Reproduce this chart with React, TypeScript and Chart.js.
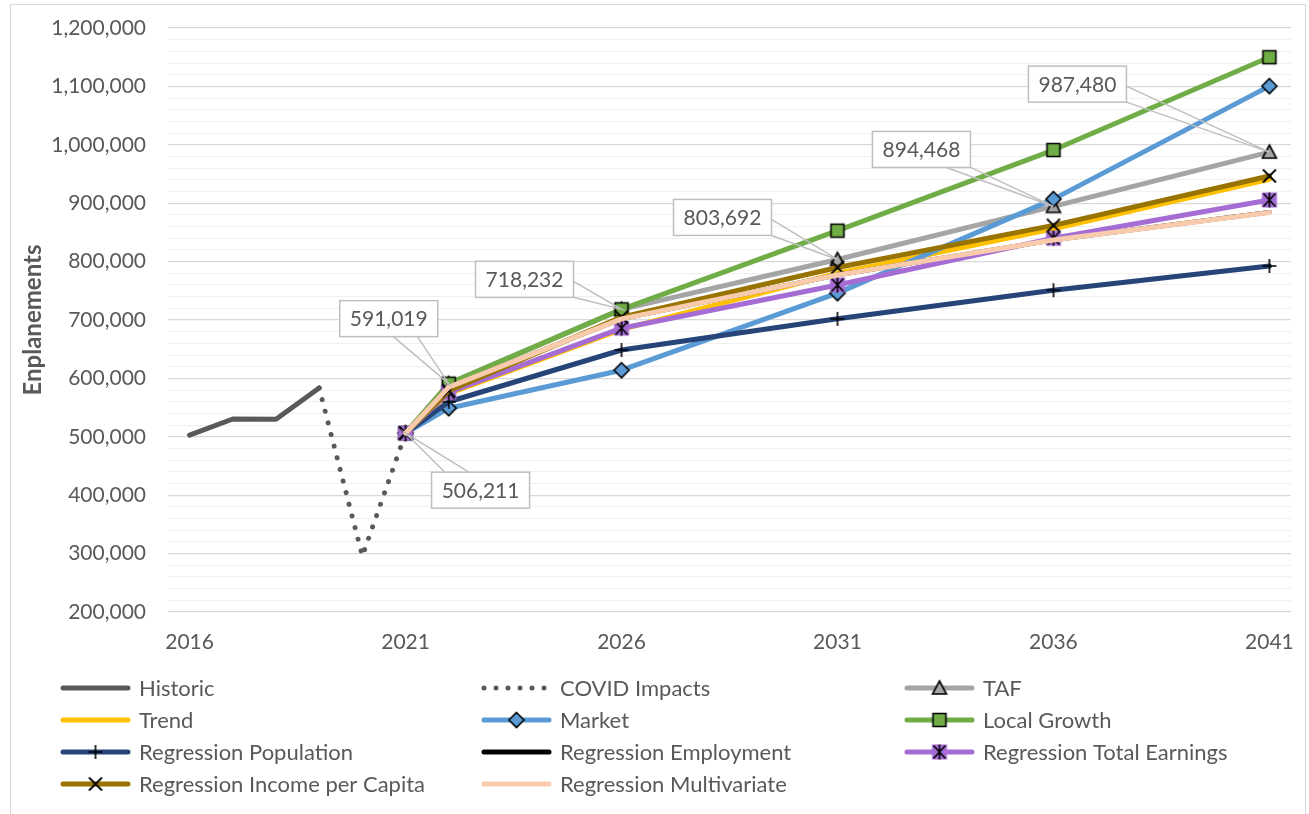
import React, { useEffect, useRef } from 'react';
import { Chart, registerables } from 'chart.js';

Chart.register(...registerables);

// ---------- data ----------
const histYears = [2016, 2017, 2018, 2019];
const historic = [503000, 530500, 530000, 583600];

const covidYears = [2019, 2020, 2021];
const covidImpacts = [583600, 296000, 506211];

const forecastYears = [2021, 2022, 2026, 2031, 2036, 2041];
const taf = [506211, 591019, 718232, 803692, 894468, 987480];
const trend = [506211, 574000, 684000, 780000, 856000, 941000];
const market = [506211, 549000, 614000, 746000, 907000, 1100500];
const localGrowth = [506211, 591019, 718232, 853000, 991000, 1150000];
const regPopulation = [506211, 560000, 648600, 702000, 751000, 792500];
const regEmployment = [506211, 585000, 702000, 777000, 837000, 884500];
const regTotalEarnings = [506211, 576000, 686000, 760000, 840000, 905500];
const regIncomePerCapita = [506211, 579000, 705000, 790000, 862000, 946600];
const regMultivariate = [506211, 585000, 702000, 777000, 837000, 884000];

const xTickYears = [2016, 2021, 2026, 2031, 2036, 2041];
const yMin = 200000;
const yMax = 1200000;
const yMajorStep = 100000;
const yMinorStep = 20000;

// TAF values that carry a callout label (indices into forecastYears)
const calloutIndices = [0, 1, 2, 3, 4, 5];

// ---------- styling ----------
const FONT = 'Lato, "Open Sans", sans-serif';
const TEXT = '#595959';

// callout box offsets relative to the labelled point (px)
const calloutOffsets: Record<number, [number, number]> = {
  0: [75, 57],
  1: [-60, -65],
  2: [-97, -30],
  3: [-115, -42],
  4: [-132, -57],
  5: [-192, -68],
};

function makeMarker(draw: (ctx: CanvasRenderingContext2D) => void, size = 22) {
  const c = document.createElement('canvas');
  c.width = size;
  c.height = size;
  const ctx = c.getContext('2d')!;
  ctx.translate(size / 2, size / 2);
  draw(ctx);
  return c;
}

function buildMarkers() {
  const triangle = makeMarker((ctx) => {
    ctx.beginPath();
    ctx.moveTo(0, -7);
    ctx.lineTo(7, 6);
    ctx.lineTo(-7, 6);
    ctx.closePath();
    ctx.fillStyle = '#A5A5A5';
    ctx.fill();
    ctx.lineWidth = 1.6;
    ctx.strokeStyle = '#000';
    ctx.stroke();
  });
  const diamond = makeMarker((ctx) => {
    ctx.beginPath();
    ctx.moveTo(0, -7.5);
    ctx.lineTo(7.5, 0);
    ctx.lineTo(0, 7.5);
    ctx.lineTo(-7.5, 0);
    ctx.closePath();
    ctx.fillStyle = '#5B9BD5';
    ctx.fill();
    ctx.lineWidth = 1.6;
    ctx.strokeStyle = '#000';
    ctx.stroke();
  });
  const square = makeMarker((ctx) => {
    ctx.beginPath();
    ctx.rect(-6.5, -6.5, 13, 13);
    ctx.fillStyle = '#70AD47';
    ctx.fill();
    ctx.lineWidth = 1.6;
    ctx.strokeStyle = '#000';
    ctx.stroke();
  });
  const plus = makeMarker((ctx) => {
    ctx.beginPath();
    ctx.moveTo(-7, 0);
    ctx.lineTo(7, 0);
    ctx.moveTo(0, -7);
    ctx.lineTo(0, 7);
    ctx.lineWidth = 1.6;
    ctx.strokeStyle = '#000';
    ctx.stroke();
  });
  const cross = makeMarker((ctx) => {
    ctx.beginPath();
    ctx.moveTo(-6.5, -6.5);
    ctx.lineTo(6.5, 6.5);
    ctx.moveTo(6.5, -6.5);
    ctx.lineTo(-6.5, 6.5);
    ctx.lineWidth = 1.8;
    ctx.strokeStyle = '#000';
    ctx.stroke();
  });
  const star = makeMarker((ctx) => {
    ctx.fillStyle = '#A56CD4';
    ctx.fillRect(-7.5, -7.5, 15, 15);
    ctx.beginPath();
    ctx.moveTo(-6, -6.5);
    ctx.lineTo(6, 6.5);
    ctx.moveTo(6, -6.5);
    ctx.lineTo(-6, 6.5);
    ctx.moveTo(0, -7.5);
    ctx.lineTo(0, 7.5);
    ctx.lineWidth = 1.6;
    ctx.strokeStyle = '#000';
    ctx.stroke();
  });
  return { triangle, diamond, square, plus, cross, star };
}

const pts = (xs: number[], ys: number[]) => xs.map((x, i) => ({ x, y: ys[i] }));

const calloutPlugin = {
  id: 'callouts',
  afterDatasetsDraw(chart: any) {
    const ctx: CanvasRenderingContext2D = chart.ctx;
    const dsIndex = chart.data.datasets.findIndex((d: any) => d.label === 'TAF');
    const meta = chart.getDatasetMeta(dsIndex);
    ctx.save();
    ctx.font = `21px ${FONT}`;
    calloutIndices.forEach((idx) => {
      const el = meta.data[idx];
      const px = el.x;
      const py = el.y;
      const [dx, dy] = calloutOffsets[idx];
      const text = taf[idx].toLocaleString('en-US');
      const tw = ctx.measureText(text).width;
      const w = Math.round(tw + 20);
      const h = 36;
      const cx = px + dx;
      const cy = py + dy;
      const l = cx - w / 2;
      const t = cy - h / 2;
      const r = l + w;
      const b = t + h;
      const vx = px - cx;
      const vy = py - cy;
      const tx = vx !== 0 ? w / 2 / Math.abs(vx) : Infinity;
      const ty = vy !== 0 ? h / 2 / Math.abs(vy) : Infinity;
      let b1: [number, number];
      let b2: [number, number];
      if (ty < tx) {
        const ey = vy > 0 ? b : t;
        let ix = cx + vx * ty;
        ix = Math.max(l + 12, Math.min(r - 12, ix));
        b1 = [ix - 12, ey];
        b2 = [ix + 12, ey];
      } else {
        const ex = vx > 0 ? r : l;
        let iy = cy + vy * tx;
        iy = Math.max(t + 8, Math.min(b - 8, iy));
        b1 = [ex, iy - 8];
        b2 = [ex, iy + 8];
      }
      ctx.strokeStyle = '#BFBFBF';
      ctx.lineWidth = 1.5;
      ctx.beginPath();
      ctx.moveTo(b1[0], b1[1]);
      ctx.lineTo(px, py);
      ctx.lineTo(b2[0], b2[1]);
      ctx.stroke();
      ctx.fillStyle = '#ffffff';
      ctx.fillRect(l, t, w, h);
      ctx.strokeRect(l, t, w, h);
      ctx.fillStyle = TEXT;
      ctx.textAlign = 'center';
      ctx.textBaseline = 'middle';
      ctx.fillText(text, cx, cy + 1);
    });
    ctx.restore();
  },
};

const legendPlugin = {
  id: 'gridLegend',
  afterDraw(chart: any) {
    const ctx: CanvasRenderingContext2D = chart.ctx;
    const colX = [61, 482, 905];
    const rowY = [688, 720, 752, 784];
    const lineLen = 69;
    ctx.save();
    ctx.font = `22px ${FONT}`;
    chart.data.datasets.forEach((ds: any, i: number) => {
      const x = colX[i % 3];
      const y = rowY[Math.floor(i / 3)];
      ctx.save();
      ctx.strokeStyle = ds.borderColor;
      ctx.lineWidth = 5;
      ctx.lineCap = 'round';
      if (ds.borderDash && ds.borderDash.length) ctx.setLineDash(ds.borderDash);
      ctx.beginPath();
      ctx.moveTo(x + 2, y);
      ctx.lineTo(x + lineLen - 2, y);
      ctx.stroke();
      ctx.restore();
      if (ds.pointRadius > 0 && ds.pointStyle && typeof ds.pointStyle === 'object') {
        const m = ds.pointStyle as HTMLCanvasElement;
        ctx.drawImage(m, x + lineLen / 2 - m.width / 2, y - m.height / 2);
      }
      ctx.fillStyle = TEXT;
      ctx.textAlign = 'left';
      ctx.textBaseline = 'middle';
      ctx.fillText(ds.label, x + 78, y + 1);
    });
    ctx.restore();
  },
};

export default function App() {
  const canvasRef = useRef<HTMLCanvasElement | null>(null);

  useEffect(() => {
    if (!canvasRef.current) return;
    const mk = buildMarkers();
    const base = {
      borderWidth: 5,
      borderCapStyle: 'round' as const,
      borderJoinStyle: 'round' as const,
      tension: 0,
      fill: false,
    };
    const series = (
      label: string,
      ys: number[],
      color: string,
      marker: HTMLCanvasElement | null,
      extra: any = {}
    ) => ({
      ...base,
      label,
      data: pts(forecastYears, ys),
      borderColor: color,
      backgroundColor: color,
      pointStyle: marker || 'circle',
      pointRadius: marker ? 7 : 0,
      pointHoverRadius: marker ? 7 : 0,
      ...extra,
    });

    const datasets: any[] = [
      {
        ...base,
        label: 'Historic',
        data: pts(histYears, historic),
        borderColor: '#595959',
        backgroundColor: '#595959',
        pointRadius: 0,
        pointHoverRadius: 0,
      },
      {
        ...base,
        label: 'COVID Impacts',
        data: pts(covidYears, covidImpacts),
        borderColor: '#595959',
        backgroundColor: '#595959',
        borderWidth: 5,
        borderDash: [0.01, 12],
        pointRadius: 0,
        pointHoverRadius: 0,
      },
      series('TAF', taf, '#A5A5A5', mk.triangle),
      series('Trend', trend, '#FFC000', null),
      series('Market', market, '#5B9BD5', mk.diamond),
      series('Local Growth', localGrowth, '#70AD47', mk.square),
      series('Regression Population', regPopulation, '#264478', mk.plus),
      series('Regression Employment', regEmployment, '#000000', null, { borderWidth: 4.5 }),
      series('Regression Total Earnings', regTotalEarnings, '#A56CD4', mk.star),
      series('Regression Income per Capita', regIncomePerCapita, '#997300', mk.cross),
      series('Regression Multivariate', regMultivariate, '#F8CBAD', null, { borderWidth: 5 }),
    ];
    const n = datasets.length;
    datasets.forEach((d, i) => {
      d.order = n - i;
    });

    const chart = new Chart(canvasRef.current, {
      type: 'line',
      data: { datasets },
      plugins: [calloutPlugin, legendPlugin],
      options: {
        animation: false,
        responsive: false,
        maintainAspectRatio: false,
        events: [],
        layout: { padding: { left: 10, right: 18, top: 28, bottom: 152 } },
        plugins: {
          legend: { display: false },
          tooltip: { enabled: false },
          title: { display: false },
        },
        scales: {
          x: {
            type: 'linear',
            min: 2015.5,
            max: 2041.5,
            afterBuildTicks: (scale: any) => {
              scale.ticks = xTickYears.map((v) => ({ value: v }));
            },
            afterFit: (scale: any) => {
              scale.height = 50;
              scale.paddingLeft = 0;
              scale.paddingRight = 0;
              scale.paddingTop = 0;
              scale.paddingBottom = 0;
            },
            grid: { display: false, drawTicks: false },
            border: { display: false },
            ticks: {
              autoSkip: false,
              maxRotation: 0,
              padding: 18,
              color: TEXT,
              font: { family: FONT, size: 21 },
              callback: (v: any) => String(v),
            },
          },
          y: {
            type: 'linear',
            min: yMin,
            max: yMax,
            afterBuildTicks: (scale: any) => {
              const t = [];
              for (let v = yMin; v <= yMax; v += yMinorStep) t.push({ value: v });
              scale.ticks = t;
            },
            afterFit: (scale: any) => {
              scale.width = 158;
              scale.paddingLeft = 0;
              scale.paddingRight = 0;
              scale.paddingTop = 0;
              scale.paddingBottom = 0;
            },
            grid: {
              drawTicks: false,
              lineWidth: (c: any) => (c.tick && c.tick.value % yMajorStep === 0 ? 1.3 : 1),
              color: (c: any) => (c.tick && c.tick.value % yMajorStep === 0 ? '#D9D9D9' : '#F0F0F0'),
            },
            border: { display: false },
            title: {
              display: true,
              text: 'Enplanements',
              color: TEXT,
              font: { family: FONT, size: 24, weight: 'bold' },
              padding: { top: 9, bottom: 0 },
            },
            ticks: {
              autoSkip: false,
              padding: 22,
              color: TEXT,
              font: { family: FONT, size: 21 },
              callback: (v: any) => (Number(v) % yMajorStep === 0 ? Number(v).toLocaleString('en-US') : ''),
            },
          },
        },
      } as any,
    });
    return () => chart.destroy();
  }, []);

  return (
    <div
      style={{
        position: 'absolute',
        left: 0,
        top: 0,
        width: 1309,
        height: 814,
        overflow: 'hidden',
        background: '#ffffff',
      }}
    >
      <div
        style={{
          position: 'absolute',
          left: 10,
          top: 4,
          width: 1296,
          height: 900,
          border: '1px solid #D9D9D9',
          boxSizing: 'border-box',
        }}
      />
      <canvas
        ref={canvasRef}
        width={1309}
        height={814}
        style={{ position: 'absolute', left: 0, top: 0, width: 1309, height: 814 }}
      />
    </div>
  );
}
